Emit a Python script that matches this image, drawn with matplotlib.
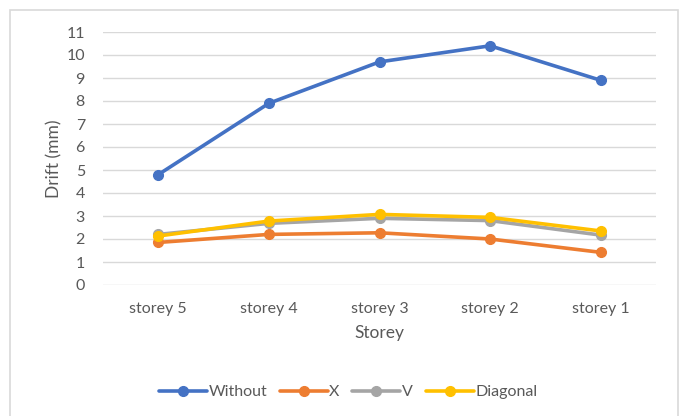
import matplotlib
matplotlib.use("Agg")
import matplotlib.pyplot as plt
from matplotlib.patches import Rectangle

storeys = ["storey 5", "storey 4", "storey 3", "storey 2", "storey 1"]
without = [4.8, 7.9, 9.7, 10.4, 8.9]
x_brace = [1.85, 2.2, 2.27, 2.0, 1.42]
v_brace = [2.2, 2.68, 2.9, 2.8, 2.17]
diagonal = [2.13, 2.78, 3.07, 2.94, 2.35]

series = [
    ("Without", without, "#4472C4"),
    ("X", x_brace, "#ED7D31"),
    ("V", v_brace, "#A5A5A5"),
    ("Diagonal", diagonal, "#FFC000"),
]

plt.rcParams["font.family"] = ["Lato", "DejaVu Sans"]
text_color = "#595959"

fig = plt.figure(figsize=(6.84, 4.16), dpi=100)
ax = fig.add_axes([103 / 684, 1 - 285 / 416, 553 / 684, 253 / 416])

pos = list(range(len(storeys)))
for name, vals, col in series:
    ax.plot(pos, vals, color=col, lw=2.6, marker="o", ms=7, label=name,
            solid_capstyle="round")

ax.set_xlim(-0.5, len(storeys) - 0.5)
ax.set_ylim(0, 11)
ax.set_yticks(range(0, 12))
ax.set_xticks(pos)
ax.set_xticklabels(storeys)
ax.grid(axis="y", color="#d9d9d9", lw=1)
ax.set_axisbelow(True)
for s in ax.spines.values():
    s.set_visible(False)
ax.tick_params(length=0, labelsize=11.5, colors=text_color)
ax.tick_params(axis="y", pad=13)
ax.tick_params(axis="x", pad=12)

ax.set_ylabel("Drift (mm)", fontsize=12.5, color=text_color, labelpad=3)
ax.set_xlabel("Storey", fontsize=12.5, color=text_color, labelpad=7)

leg = ax.legend(loc="center", bbox_to_anchor=(348 / 684, 1 - 392 / 416),
                bbox_transform=fig.transFigure, ncol=4, frameon=False,
                fontsize=11.5, handlelength=3, handletextpad=0.1,
                columnspacing=0.8, labelcolor=text_color)

# chart area border
fig.add_artist(Rectangle((10 / 684, -0.1), 668 / 684, 1.1 - 10 / 416,
                         transform=fig.transFigure, fill=False,
                         edgecolor="#d9d9d9", lw=1.2))

fig.savefig("out.png", dpi=100)
